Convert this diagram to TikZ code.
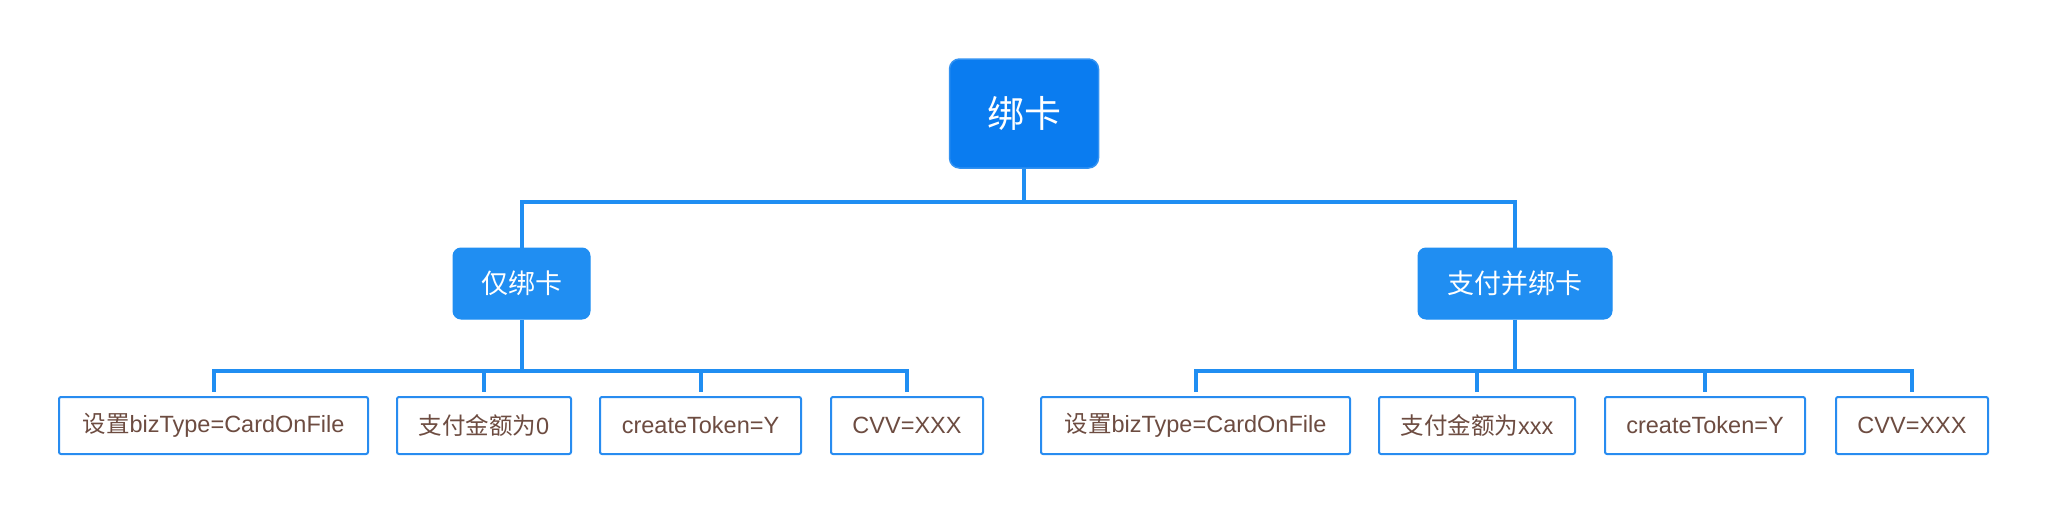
\documentclass[tikz,border=0pt]{standalone}
\usepackage{fontspec}
\setmainfont{Liberation Sans}
\newfontfamily\cjk{Noto Sans CJK SC}
\definecolor{rootfill}{RGB}{10,124,240}
\definecolor{rootdraw}{RGB}{50,146,242}
\definecolor{midfill}{RGB}{32,142,242}
\definecolor{linecol}{RGB}{32,142,242}
\definecolor{leafdraw}{RGB}{40,140,240}
\definecolor{leaftext}{RGB}{109,76,65}
\tikzset{
  rootbox/.style={rectangle, rounded corners=10pt, fill=rootfill, draw=rootdraw, line width=1.5pt,
    minimum width=149pt, minimum height=109pt, inner sep=0pt, text=white,
    font=\cjk\fontsize{37}{44}\selectfont},
  midbox/.style={rectangle, rounded corners=8pt, fill=midfill, draw=midfill, line width=1pt,
    minimum height=71pt, inner sep=0pt, text=white,
    font=\cjk\fontsize{27}{32}\selectfont},
  leafbox/.style={rectangle, rounded corners=2pt, fill=white, draw=leafdraw, line width=2pt,
    minimum height=57pt, inner sep=0pt, text=leaftext,
    font=\fontsize{23.5}{28}\selectfont},
  conn/.style={draw=linecol, line width=4pt, line join=miter, line cap=butt}
}
\begin{document}
\begin{tikzpicture}[x=1pt,y=-1pt]
\useasboundingbox (0,0) rectangle (2048,514);
% nodes
\node[rootbox] (root) at (1024,113.5) {绑卡};
\node[midbox, minimum width=137pt] (L1) at (521.5,283.5) {仅绑卡};
\node[midbox, minimum width=194pt] (R1) at (1515,283.5) {支付并绑卡};
% left leaves
\node[leafbox, minimum width=309pt] (a1) at (213.5,425.5) {{\cjk 设置}bizType=CardOnFile};
\node[leafbox, minimum width=174pt] (a2) at (484,425.5) {{\cjk 支付金额为}0};
\node[leafbox, minimum width=201pt] (a3) at (700.5,425.5) {createToken=Y};
\node[leafbox, minimum width=152pt] (a4) at (907,425.5) {CVV=XXX};
% right leaves
\node[leafbox, minimum width=309pt] (b1) at (1195.5,425.5) {{\cjk 设置}bizType=CardOnFile};
\node[leafbox, minimum width=196pt] (b2) at (1477,425.5) {{\cjk 支付金额为}xxx};
\node[leafbox, minimum width=200pt] (b3) at (1705,425.5) {createToken=Y};
\node[leafbox, minimum width=152pt] (b4) at (1912,425.5) {CVV=XXX};
% bus coordinates
\coordinate (bus0) at (1024,202);
\coordinate (busL) at (521.5,371);
\coordinate (busR) at (1515,371);
% connectors
\draw[conn] (root.south) -- (bus0);
\draw[conn] (bus0) -| (L1.north);
\draw[conn] (bus0) -| (R1.north);
\draw[conn] (L1.south) -- (busL);
\draw[conn] (R1.south) -- (busR);
\foreach \n in {a1,a2,a3,a4}{
  \draw[conn] (busL) -| ([yshift=4pt]\n.north);
}
\foreach \n in {b1,b2,b3,b4}{
  \draw[conn] (busR) -| ([yshift=4pt]\n.north);
}
\end{tikzpicture}
\end{document}
